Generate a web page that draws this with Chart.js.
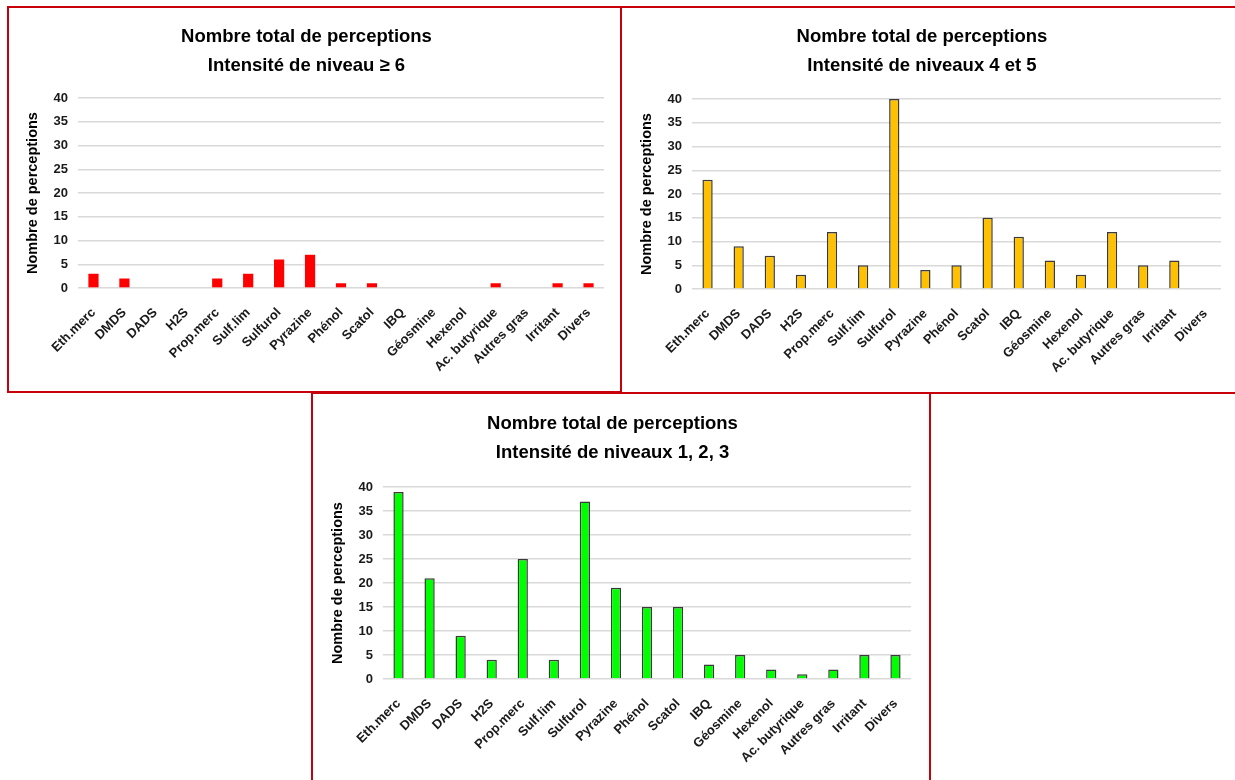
<!DOCTYPE html>
<html>
<head>
<meta charset="utf-8">
<script src="https://cdn.jsdelivr.net/npm/chart.js@4.4.1/dist/chart.umd.min.js"></script>
<style>
  html, body { margin: 0; padding: 0; background: #fff; }
  body { width: 1235px; height: 780px; overflow: hidden; position: relative; }
  .panel { position: absolute; }
  .frame { position: absolute; border: 2px solid #c8000a; box-sizing: border-box; z-index: 2; pointer-events: none; }
  canvas { display: block; }
</style>
</head>
<body>
<div class="panel" style="left:9px;top:8px;width:610px;height:382px"><canvas id="c1"></canvas></div>
<div class="panel" style="left:623px;top:8px;width:612px;height:383px"><canvas id="c2"></canvas></div>
<div class="panel" style="left:314px;top:395px;width:615px;height:385px"><canvas id="c3"></canvas></div>
<div class="frame" style="left:7px;top:6px;width:615px;height:387px"></div>
<div class="frame" style="left:620px;top:6px;width:630px;height:388px"></div>
<div class="frame" style="left:311px;top:392px;width:620px;height:400px"></div>
<script>
// Odorant categories shown on every x axis
const categories = ['Eth.merc', 'DMDS', 'DADS', 'H2S', 'Prop.merc', 'Sulf.lim', 'Sulfurol',
  'Pyrazine', 'Phénol', 'Scatol', 'IBQ', 'Géosmine', 'Hexenol', 'Ac. butyrique',
  'Autres gras', 'Irritant', 'Divers'];

// Number of perceptions per intensity class
const niveau6 = [3, 2, 0, 0, 2, 3, 6, 7, 1, 1, 0, 0, 0, 1, 0, 1, 1];
const niveaux45 = [23, 9, 7, 3, 12, 5, 40, 4, 5, 15, 11, 6, 3, 12, 5, 6, 0];
const niveaux123 = [39, 21, 9, 4, 25, 4, 37, 19, 15, 15, 3, 5, 2, 1, 2, 5, 5];

// Shared y axis ticks
const yMin = 0, yMax = 40, yStep = 5;
const yTitle = 'Nombre de perceptions';
const titleLine1 = 'Nombre total de perceptions';

const FONT = '"Liberation Sans", Arial, sans-serif';

function buildChart(id, values, subtitle, fill, stroke, strokeWidth, box) {
  return new Chart(document.getElementById(id), {
    type: 'bar',
    data: {
      labels: categories,
      datasets: [{
        data: values,
        backgroundColor: fill,
        borderColor: stroke,
        borderWidth: strokeWidth,
        barPercentage: 0.33,
        categoryPercentage: 1
      }]
    },
    options: {
      responsive: true,
      maintainAspectRatio: false,
      animation: false,
      layout: { padding: { left: 0, right: box.padRight, top: 0, bottom: 0 } },
      plugins: {
        legend: { display: false },
        tooltip: { enabled: false },
        title: {
          display: true,
          text: [titleLine1, subtitle],
          color: '#000',
          font: { family: FONT, size: 18.5, weight: 'bold', lineHeight: 1.57 },
          padding: { top: 14.5, bottom: box.titleGap }
        }
      },
      scales: {
        x: {
          grid: { display: false, drawTicks: false },
          border: { display: false },
          ticks: {
            autoSkip: false,
            minRotation: 45,
            maxRotation: 45,
            padding: 17,
            color: '#1a1a1a',
            font: { family: FONT, size: 13, weight: 'bold' }
          },
          afterFit(scale) {
            scale.height = box.xHeight;
            scale.paddingLeft = 0;
            scale.paddingRight = 0;
          }
        },
        y: {
          min: yMin,
          max: yMax,
          grid: { color: '#d9d9d9', lineWidth: 1.4, drawTicks: false },
          border: { display: false },
          ticks: {
            stepSize: yStep,
            padding: 10,
            color: '#1a1a1a',
            font: { family: FONT, size: 13, weight: 'bold' }
          },
          title: {
            display: true,
            text: yTitle,
            color: '#000',
            font: { family: FONT, size: 14.5, weight: 'bold', lineHeight: 1.2 },
            padding: { top: 15, bottom: 0 }
          },
          afterFit(scale) {
            scale.width = box.yWidth;
            scale.paddingTop = 0;
            scale.paddingBottom = 0;
          }
        }
      }
    }
  });
}

buildChart('c1', niveau6, 'Intensité de niveau ≥ 6', '#ff0000', '#ff0000', 0,
  { padRight: 15, titleGap: 17.5, xHeight: 102, yWidth: 69 });
buildChart('c2', niveaux45, 'Intensité de niveaux 4 et 5', '#ffc000', '#3a3a3a', 1.5,
  { padRight: 14, titleGap: 18.5, xHeight: 102, yWidth: 69 });
buildChart('c3', niveaux123, 'Intensité de niveaux 1, 2, 3', '#00ff00', '#3a3a3a', 1.5,
  { padRight: 18, titleGap: 19.5, xHeight: 101, yWidth: 69 });
</script>
</body>
</html>
